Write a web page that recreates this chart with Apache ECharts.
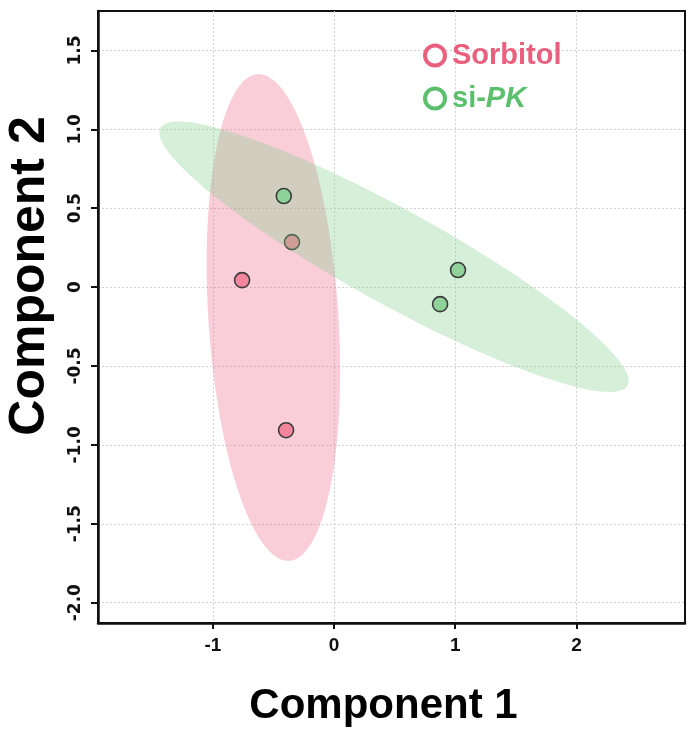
<!DOCTYPE html>
<html>
<head>
<meta charset="utf-8">
<script src="https://cdn.jsdelivr.net/npm/echarts@6/dist/echarts.min.js"></script>
<style>html,body{margin:0;padding:0;background:#fff;}#c{width:691px;height:733px;}</style>
</head>
<body>
<div id="c"></div>
<script>
// ---- data ----
const groupNames = ['Sorbitol', 'si-PK'];
const sorbitolPoints = [[-0.759, 0.044], [-0.347, 0.285], [-0.396, -0.907]];
const siPKPoints = [[-0.415, 0.577], [1.023, 0.108], [0.875, -0.108]];
const xTicks = [-1, 0, 1, 2];
const yTicks = [-2.0, -1.5, -1.0, -0.5, 0, 0.5, 1.0, 1.5];
const ellipseLevelChi2 = 5.991; // 95% confidence, 2 dof

const FONT = "'Liberation Sans', Arial, sans-serif";
const FONT_WIDE = "'DejaVu Sans', 'Liberation Sans', sans-serif";
const pinkFill = '#f3869c', greenFill = '#8fd39a';
const pinkLegend = '#ea5f7e', greenLegend = '#5bbf6c';

function ellipsePolygon(pts, nSeg) {
  const n = pts.length;
  const mx = pts.reduce((s, p) => s + p[0], 0) / n;
  const my = pts.reduce((s, p) => s + p[1], 0) / n;
  let sxx = 0, syy = 0, sxy = 0;
  pts.forEach(p => { const dx = p[0] - mx, dy = p[1] - my; sxx += dx * dx; syy += dy * dy; sxy += dx * dy; });
  sxx /= (n - 1); syy /= (n - 1); sxy /= (n - 1);
  const tr = sxx + syy, det = sxx * syy - sxy * sxy;
  const disc = Math.sqrt(Math.max(tr * tr / 4 - det, 0));
  const l1 = tr / 2 + disc, l2 = tr / 2 - disc;
  let vx = sxy, vy = l1 - sxx;
  if (Math.abs(vx) < 1e-12 && Math.abs(vy) < 1e-12) { vx = 1; vy = 0; }
  const len = Math.hypot(vx, vy); vx /= len; vy /= len;
  const k = Math.sqrt(ellipseLevelChi2);
  const a = k * Math.sqrt(l1), b = k * Math.sqrt(Math.max(l2, 0));
  const out = [];
  for (let i = 0; i < nSeg; i++) {
    const t = 2 * Math.PI * i / nSeg;
    const u = a * Math.cos(t), v = b * Math.sin(t);
    out.push([mx + u * vx - v * vy, my + u * vy + v * vx]);
  }
  return out;
}

function ellipseSeries(name, pts, color, z) {
  const poly = ellipsePolygon(pts, 160);
  return {
    type: 'custom', name: name + ' ellipse', z: z, silent: true,
    data: [0],
    renderItem: function (params, api) {
      return {
        type: 'polygon',
        shape: { points: poly.map(p => api.coord(p)) },
        style: { fill: color, stroke: null }
      };
    }
  };
}

const chart = echarts.init(document.getElementById('c'), null, { renderer: 'canvas' });
const option = {
  animation: false,
  backgroundColor: '#fff',
  grid: { left: 98, top: 11, right: 6, bottom: 110, outerBoundsMode: 'none', containLabel: false,
    show: true, borderColor: '#111', borderWidth: 2, backgroundColor: 'transparent' },
  legend: {
    orient: 'vertical', left: 423, top: 41, padding: 0, itemWidth: 20, itemHeight: 20, itemGap: 14,
    icon: 'circle',
    data: [
      { name: 'Sorbitol', itemStyle: { color: '#fff', borderColor: pinkLegend, borderWidth: 4 } },
      { name: 'si-PK', itemStyle: { color: '#fff', borderColor: greenLegend, borderWidth: 4 } }
    ],
    formatter: function (name) { return name === 'si-PK' ? '{g|si-}{gi|PK}' : '{p|' + name + '}'; },
    textStyle: {
      padding: [0, 0, 0, 2],
      rich: {
        p: { color: pinkLegend, fontWeight: 'bold', fontSize: 29, fontFamily: FONT },
        g: { color: greenLegend, fontWeight: 'bold', fontSize: 29, fontFamily: FONT },
        gi: { color: greenLegend, fontWeight: 'bold', fontStyle: 'italic', fontSize: 29, fontFamily: FONT }
      }
    }
  },
  xAxis: {
    type: 'value', min: -1.948, max: 2.896, minInterval: 1, maxInterval: 1,
    name: 'Component 1', nameLocation: 'middle', nameGap: 62,
    nameTextStyle: { fontFamily: FONT, fontWeight: 'bold', fontSize: 42, color: '#000', padding: [0, 16, 0, 0] },
    axisLine: { show: true, onZero: false, lineStyle: { color: '#111', width: 2.5 } },
    axisTick: { show: true, length: 6, customValues: xTicks, lineStyle: { color: '#111', width: 2 } },
    axisLabel: { customValues: xTicks, margin: 13, fontFamily: FONT, fontWeight: 'bold', fontSize: 19, color: '#111', formatter: v => String(v) },
    splitLine: { show: true, lineStyle: { color: '#d2d2d2', width: 1, type: [2, 2] } }
  },
  yAxis: {
    type: 'value', min: -2.129, max: 1.75, minInterval: 0.5, maxInterval: 0.5,
    name: 'Component 2', nameLocation: 'middle', nameGap: 43,
    nameTextStyle: { fontFamily: FONT, fontWeight: 'bold', fontSize: 50, color: '#000', padding: [0, 0, 0, 82] },
    axisLine: { show: true, onZero: false, lineStyle: { color: '#111', width: 2.5 } },
    axisTick: { show: true, length: 7, customValues: yTicks, lineStyle: { color: '#111', width: 2 } },
    axisLabel: { customValues: yTicks, rotate: 90, margin: 14, fontFamily: FONT_WIDE, fontWeight: 'bold', fontSize: 17, color: '#111',
      formatter: v => (Math.abs(v) < 1e-9 ? '0' : Number(v).toFixed(1)) },
    splitLine: { show: true, lineStyle: { color: '#d2d2d2', width: 1, type: [2, 2] } }
  },
  series: [
    ellipseSeries('Sorbitol', sorbitolPoints, 'rgba(240,110,145,0.34)', 1),
    {
      type: 'scatter', name: groupNames[0], data: sorbitolPoints, z: 2, symbol: 'circle', symbolSize: 15,
      itemStyle: { color: pinkFill, borderColor: '#3a3a3a', borderWidth: 1.6, opacity: 1 }
    },
    ellipseSeries('si-PK', siPKPoints, 'rgba(130,205,140,0.33)', 3),
    {
      type: 'scatter', name: groupNames[1], data: siPKPoints, z: 4, symbol: 'circle', symbolSize: 15,
      itemStyle: { color: greenFill, borderColor: '#3a3a3a', borderWidth: 1.6, opacity: 1 }
    }
  ]
};
chart.setOption(option);
</script>
</body>
</html>
